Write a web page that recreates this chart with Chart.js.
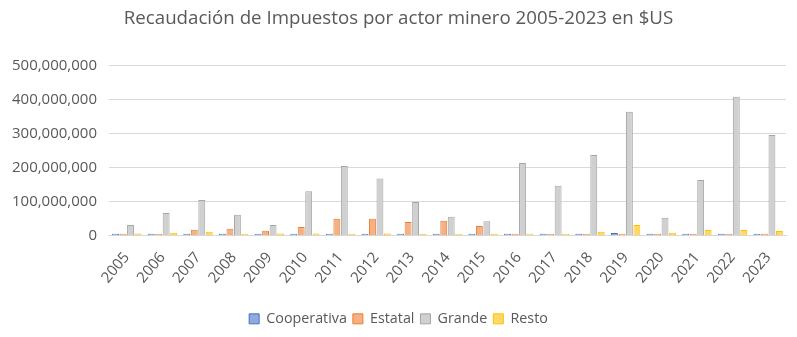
<!DOCTYPE html>
<html>
<head>
<meta charset="utf-8">
<script src="https://cdn.jsdelivr.net/npm/chart.js@4/dist/chart.umd.min.js"></script>
<style>
  html, body { margin: 0; padding: 0; background: #fff; }
  #wrap { width: 797px; height: 337px; position: relative; }
</style>
</head>
<body>
<div id="wrap"><canvas id="chart" width="797" height="337"></canvas></div>
<script>
// values, in $US
const years = ['2005', '2006', '2007', '2008', '2009', '2010', '2011', '2012', '2013', '2014',
  '2015', '2016', '2017', '2018', '2019', '2020', '2021', '2022', '2023'];
const cooperativa = [2e6, 2e6, 2e6, 2e6, 2e6, 2e6, 2e6, 2e6, 5e6, 2e6,
  6e6, 2e6, 6e6, 6e6, 8e6, 2e6, 2e6, 2e6, 2e6];
const estatal = [2e6, 2e6, 18e6, 21e6, 15e6, 26e6, 50e6, 50e6, 41e6, 44e6,
  29e6, 5e6, 5e6, 2e6, 6e6, 2e6, 2e6, 6e6, 6e6];
const grande = [32e6, 67e6, 105e6, 62e6, 32e6, 131e6, 205e6, 168e6, 99e6, 56e6,
  43e6, 214e6, 147e6, 237e6, 364e6, 53e6, 164e6, 408e6, 296e6];
const resto = [7e6, 9e6, 12e6, 2e6, 7e6, 7e6, 2e6, 7e6, 2e6, 2e6,
  2e6, 6e6, 6e6, 12e6, 32e6, 9e6, 17e6, 17e6, 14e6];
const yTicks = [0, 100e6, 200e6, 300e6, 400e6, 500e6];

const font = "'Open Sans', 'Liberation Sans', sans-serif";
const grey = '#595959';

function series(label, data, fill, border) {
  return { label, data, backgroundColor: fill, borderColor: border, borderWidth: 1,
    minBarLength: 2, categoryPercentage: 0.84, barPercentage: 0.92 };
}

new Chart(document.getElementById('chart'), {
  type: 'bar',
  data: {
    labels: years,
    datasets: [
      series('Cooperativa', cooperativa, '#8faadc', '#4472c4'),
      series('Estatal', estatal, '#f4b183', '#ed7d31'),
      series('Grande', grande, '#d0d0d0', '#a5a5a5'),
      series('Resto', resto, '#ffd966', '#ffc000')
    ]
  },
  options: {
    responsive: false,
    animation: false,
    layout: { padding: { left: 11, right: 11, top: 5, bottom: 1 } },
    plugins: {
      title: {
        display: true,
        text: 'Recaudación de Impuestos por actor minero 2005-2023 en $US',
        color: grey,
        font: { family: font, size: 18.7, weight: 'normal' },
        padding: { top: 2, bottom: 36 }
      },
      legend: {
        position: 'bottom',
        labels: {
          color: grey,
          font: { family: font, size: 14.3 },
          boxWidth: 10,
          boxHeight: 10,
          padding: 6
        }
      },
      tooltip: { enabled: false }
    },
    scales: {
      x: {
        grid: { display: false },
        border: { color: '#d9d9d9' },
        ticks: { color: grey, font: { family: font, size: 15 }, minRotation: 50, maxRotation: 50, padding: 5 },
        afterFit: scale => { scale.height += 14; }
      },
      y: {
        min: 0,
        max: 500e6,
        afterBuildTicks: axis => { axis.ticks = yTicks.map(v => ({ value: v })); },
        afterFit: scale => { scale.width -= 11; },
        grid: { color: '#d9d9d9', drawTicks: false },
        border: { display: false },
        ticks: {
          color: grey,
          font: { family: font, size: 15 },
          padding: 12,
          callback: v => v.toLocaleString('en-US')
        }
      }
    }
  }
});
</script>
</body>
</html>
